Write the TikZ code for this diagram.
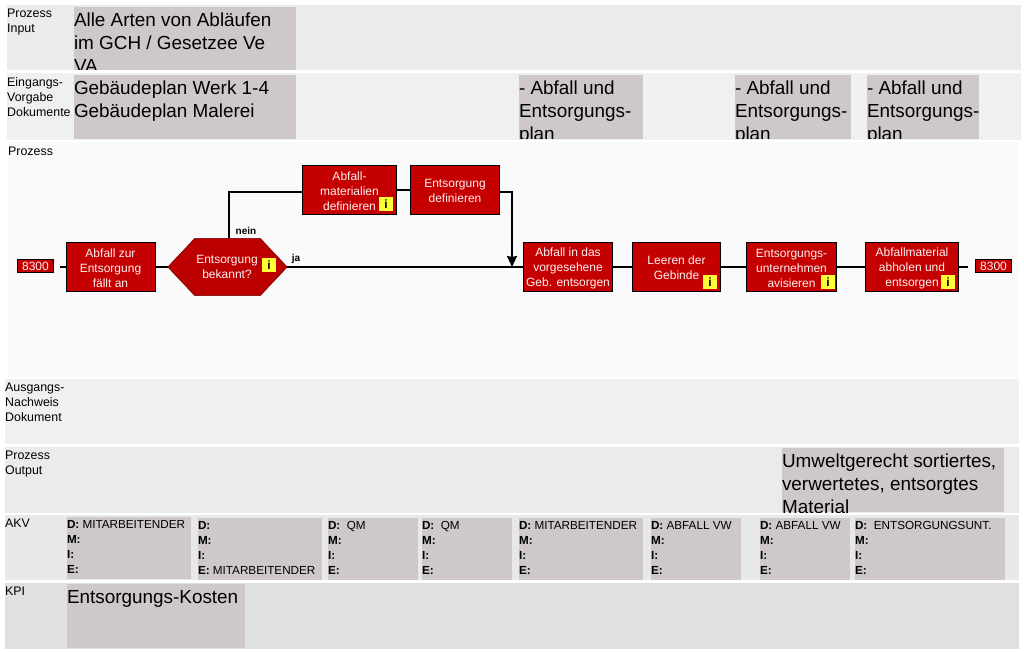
\documentclass[tikz,border=0pt]{standalone}
\usepackage{fontspec}
\setmainfont{Liberation Sans}
\usetikzlibrary{arrows.meta}
\definecolor{rotbox}{HTML}{C40000}
\definecolor{grybg}{HTML}{CEC8CA}
\definecolor{gelb}{HTML}{FFFF33}
\definecolor{weiss}{HTML}{FFF0F0}
\tikzset{
  band/.style={anchor=north west,inner sep=0pt,outer sep=0pt},
  gry/.style={anchor=north west,fill=grybg,inner sep=0pt,outer sep=0pt},
  lbl/.style={anchor=north west,inner sep=0pt,align=left,font=\fontsize{12.4}{15}\selectfont},
  big/.style={anchor=north west,inner sep=0pt,yshift=-2pt,align=left,font=\fontsize{18.9}{23}\selectfont},
  akv/.style={anchor=north west,inner sep=0pt,yshift=-.5pt,align=left,font=\fontsize{11.7}{14.9}\selectfont},
  rot/.style={draw=black,line width=1pt,fill=rotbox,text=weiss,align=center,inner sep=0pt,
              minimum height=49pt,font=\fontsize{12}{15}\selectfont},
  num/.style={draw=black,line width=1pt,fill=rotbox,text=weiss,inner sep=0pt,minimum width=36pt,
              minimum height=13pt,font=\fontsize{12}{14}\selectfont},
  info/.style={fill=gelb,inner sep=0pt,minimum size=14pt,font=\fontsize{12}{14}\selectfont\bfseries},
  ln/.style={line width=2pt,draw=black},
  ar/.style={ln,-{Stealth[length=11pt,width=10pt,inset=1pt]}},
  tag/.style={inner sep=0pt,font=\fontsize{10}{12}\selectfont\bfseries},
}
% grey field, text cut off at its edge
\newcommand{\fld}[7]{\node[gry,minimum width=#4,minimum height=#5,
  path picture={\node[#6,minimum width=0pt,minimum height=0pt] at ([yshift=-1pt]path picture bounding box.north west) {\strut #7};}] (#1) at (#2,#3){};}
\begin{document}
\begin{tikzpicture}[x=1pt,y=-1pt]
  \useasboundingbox[fill=white] (0,0) rectangle (1024,652);
  % rows
  \node[band,fill=black!8,minimum width=1014,minimum height=65] (rowinput) at (7,5){};
  \node[band,fill=black!6,minimum width=1014,minimum height=67] (rowdocs) at (7,73){};
  \node[band,fill=black!2,minimum width=1011,minimum height=235] (rowproc) at (8,142){};
  \node[band,fill=black!6,minimum width=1014,minimum height=65] (rowout) at (5,379){};
  \node[band,fill=black!8,minimum width=1014,minimum height=66] (rowoutput) at (5,447){};
  \node[band,fill=black!9,minimum width=1014,minimum height=65] (rowakv) at (5,515){};
  \node[band,fill=black!12,minimum width=1014,minimum height=66] (rowkpi) at (5,583){};
  % row titles
  \node[lbl] (tinput) at (7,9){Prozess\\Input};
  \node[lbl] (tdocs) at (7,77){Eingangs-\\Vorgabe\\Dokumente};
  \node[lbl] (tproc) at (8,147){Prozess};
  \node[lbl] (tout) at (5,383){Ausgangs-\\Nachweis\\Dokument};
  \node[lbl] (toutput) at (5,451){Prozess\\Output};
  \node[lbl] (takv) at (5,519){AKV};
  \node[lbl] (tkpi) at (5,587){KPI};
  % grey fields
  \fld{input}{74}{7}{222}{63}{big}{Alle Arten von Abläufen\\im GCH / Gesetzee Ve\\VA}
  \fld{plana}{74}{75}{222}{64}{big}{Gebäudeplan Werk 1-4\\Gebäudeplan Malerei}
  \fld{planb}{519}{75}{124}{64}{big}{- Abfall und\\Entsorgungs-\\plan}
  \fld{planc}{735}{75}{116}{64}{big}{- Abfall und\\Entsorgungs-\\plan}
  \fld{pland}{867}{75}{112}{64}{big}{- Abfall und\\Entsorgungs-\\plan}
  \fld{output}{782}{448}{222}{64}{big}{Umweltgerecht sortiertes,\\verwertetes, entsorgtes\\Material}
  \fld{akva}{67}{517}{124}{62}{akv}{\textbf{D:} MITARBEITENDER\\\textbf{M:}\\\textbf{I:}\\\textbf{E:}}
  \fld{akvb}{198}{518}{124}{62}{akv}{\textbf{D:}\\\textbf{M:}\\\textbf{I:}\\\textbf{E:} MITARBEITENDER}
  \fld{akvc}{328}{518}{90}{62}{akv}{\textbf{D:}\; QM\\\textbf{M:}\\\textbf{I:}\\\textbf{E:}}
  \fld{akvd}{422}{518}{90}{62}{akv}{\textbf{D:}\; QM\\\textbf{M:}\\\textbf{I:}\\\textbf{E:}}
  \fld{akve}{519}{518}{124}{62}{akv}{\textbf{D:} MITARBEITENDER\\\textbf{M:}\\\textbf{I:}\\\textbf{E:}}
  \fld{akvf}{651}{518}{90}{62}{akv}{\textbf{D:} ABFALL VW\\\textbf{M:}\\\textbf{I:}\\\textbf{E:}}
  \fld{akvg}{760}{518}{90}{62}{akv}{\textbf{D:} ABFALL VW\\\textbf{M:}\\\textbf{I:}\\\textbf{E:}}
  \fld{akvh}{855}{518}{150}{62}{akv}{\textbf{D:}\; ENTSORGUNGSUNT.\\\textbf{M:}\\\textbf{I:}\\\textbf{E:}}
  \fld{kpi}{67}{584}{178}{64}{big}{Entsorgungs-Kosten}
  % process
  \node[num] (start) at (35.5,266){8300};
  \node[rot,minimum width=89] (anfall) at (110.5,267){\strut Abfall zur\\Entsorgung\\fällt an};
  \node[minimum width=119,minimum height=57,inner sep=0pt] (frage) at (227.5,267){};
  \fill[rotbox!96!black,draw=black!60!red,line width=.5pt] (frage.west)--([xshift=27]frage.north west)
    --([xshift=-27]frage.north east)--(frage.east)--([xshift=-27]frage.south east)--([xshift=27]frage.south west)--cycle;
  \begin{scope}
    \clip (frage.north west) rectangle (258,296);
    \node[text=weiss,align=center,inner sep=0pt,font=\fontsize{12}{15}\selectfont] (fragetxt) at (227,267){Entsorgung\\bekannt?};
  \end{scope}
  \node[rot,minimum width=94] (material) at (349.5,190){\strut Abfall-\\materialien\\definieren};
  \node[rot,minimum width=89] (defin) at (455,190){\strut Entsorgung\\definieren};
  \node[rot,minimum width=89] (gebinde) at (568,267){\strut Abfall in das\\vorgesehene\\Geb. entsorgen};
  \node[rot,minimum width=88] (leeren) at (676.5,267){\strut Leeren der\\Gebinde};
  \node[rot,minimum width=90] (avis) at (791.5,267){\strut Entsorgungs-\\unternehmen\\avisieren};
  \node[rot,minimum width=93] (abholen) at (912,267){\strut Abfallmaterial\\abholen und\\entsorgen};
  \node[num] (ende) at (993.5,266){8300};
  % info marks
  \node[info] (ifrage) at (269,265){i};
  \node[info] (imaterial) at (386,204){i};
  \node[info] (ileeren) at (710,282){i};
  \node[info] (iavis) at (828,282){i};
  \node[info] (iabholen) at (948,282){i};
  % free line ends
  \coordinate (links) at (60,267);
  \coordinate (rechts) at (968,267);
  \coordinate (neinup) at (229,192);
  \coordinate (matin) at (302,192);
  \coordinate (defout) at (500,192);
  \coordinate (knick) at (512,192);
  \coordinate (treff) at (512,267);
  % connectors
  \draw[ln] (links)--(anfall.west);
  \draw[ln] (anfall.east)--(frage.west);
  \draw[ln] (frage.east)--(gebinde.west);
  \draw[ln] (neinup |- frage.north)--(neinup)--(matin);
  \draw[ln] (material.east)--(defin.west);
  \draw[ar] (defout)--(knick)--(treff);
  \draw[ln] (gebinde.east)--(leeren.west);
  \draw[ln] (leeren.east)--(avis.west);
  \draw[ln] (avis.east)--(abholen.west);
  \draw[ln] (abholen.east)--(rechts);
  \node[tag] (nein) at (246,231){nein};
  \node[tag] (ja) at (296,259){ja};
\end{tikzpicture}
\end{document}
